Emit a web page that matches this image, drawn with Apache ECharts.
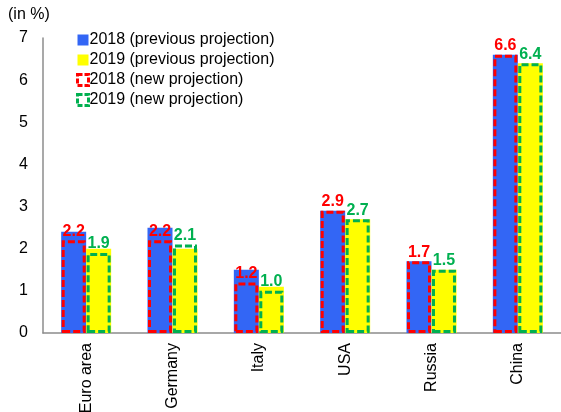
<!DOCTYPE html>
<html>
<head>
<meta charset="utf-8">
<script src="https://cdn.jsdelivr.net/npm/echarts@6/dist/echarts.min.js"></script>
<style>html,body{margin:0;padding:0;background:#fff}#c{width:561px;height:412px}</style>
</head>
<body>
<div id="c"></div>
<script>
const categories = ['Euro area', 'Germany', 'Italy', 'USA', 'Russia', 'China'];
const prev2018 = [2.4, 2.5, 1.5, 2.9, 1.7, 6.6];
const prev2019 = [2.0, 2.0, 1.1, 2.7, 1.5, 6.4];
const new2018 = [2.2, 2.2, 1.2, 2.9, 1.7, 6.6];
const new2019 = [1.9, 2.1, 1.0, 2.7, 1.5, 6.4];
const yTicks = [0, 1, 2, 3, 4, 5, 6, 7];

const FONT = '"Liberation Sans", Arial, sans-serif';
const chart = echarts.init(document.getElementById('c'), null, {renderer: 'canvas'});
const dash = [7, 3];
function outlineSeries(name, data, color) {
  return {
    name, type: 'bar', xAxisIndex: 1, data, barWidth: 24, barGap: '4%',
    itemStyle: {color: 'rgba(0,0,0,0)', borderColor: color, borderWidth: 3, borderType: dash},
    label: {show: true, position: 'top', distance: 1, color: color, fontFamily: FONT,
      fontWeight: 'bold', fontSize: 16, formatter: p => p.value.toFixed(1)},
    z: 3
  };
}
chart.setOption({
  animation: false,
  textStyle: {fontFamily: FONT},
  title: {text: '(in %)', left: 3, top: 2, textStyle: {fontFamily: FONT, fontSize: 16, fontWeight: 'normal', color: '#000'}},
  grid: {left: 43, right: 0, top: 38, bottom: 79, containLabel: false, outerBoundsMode: 'none'},
  legend: {
    orient: 'vertical', left: 71, top: 27, itemWidth: 11, itemHeight: 11, itemGap: 4,
    textStyle: {fontFamily: FONT, fontSize: 16, color: '#000', padding: [0, 0, 0, -4]},
    data: [
      {name: '2018 (previous projection)', icon: 'rect'},
      {name: '2019 (previous projection)', icon: 'rect'},
      {name: '2018 (new projection)', icon: 'rect', itemStyle: {color: 'rgba(0,0,0,0)', borderColor: '#FF0000', borderWidth: 3, borderType: [5, 2]}},
      {name: '2019 (new projection)', icon: 'rect', itemStyle: {color: 'rgba(0,0,0,0)', borderColor: '#00B050', borderWidth: 3, borderType: [5, 2]}}
    ]
  },
  xAxis: [{
    type: 'category', data: categories,
    axisLine: {lineStyle: {color: '#8c8c8c', width: 1.5}},
    axisTick: {show: false},
    axisLabel: {rotate: 90, fontFamily: FONT, fontSize: 16, color: '#000', margin: 10}
  }, {
    type: 'category', data: categories, show: false
  }],
  yAxis: {
    type: 'value', min: 0, max: 7, interval: 1,
    axisLine: {show: true, lineStyle: {color: '#8c8c8c', width: 1.5}},
    axisTick: {show: false},
    splitLine: {show: false},
    axisLabel: {fontFamily: FONT, fontSize: 16, color: '#000', margin: 15,
      formatter: v => yTicks.includes(v) ? String(v) : ''}
  },
  series: [
    {name: '2018 (previous projection)', type: 'bar', xAxisIndex: 0, data: prev2018, barWidth: 25, barGap: '0%',
      itemStyle: {color: '#3366F5'}, z: 2},
    {name: '2019 (previous projection)', type: 'bar', xAxisIndex: 0, data: prev2019, barWidth: 25, barGap: '0%',
      itemStyle: {color: '#FFFF00'}, z: 2},
    outlineSeries('2018 (new projection)', new2018, '#FF0000'),
    outlineSeries('2019 (new projection)', new2019, '#00B050')
  ]
});
</script>
</body>
</html>
